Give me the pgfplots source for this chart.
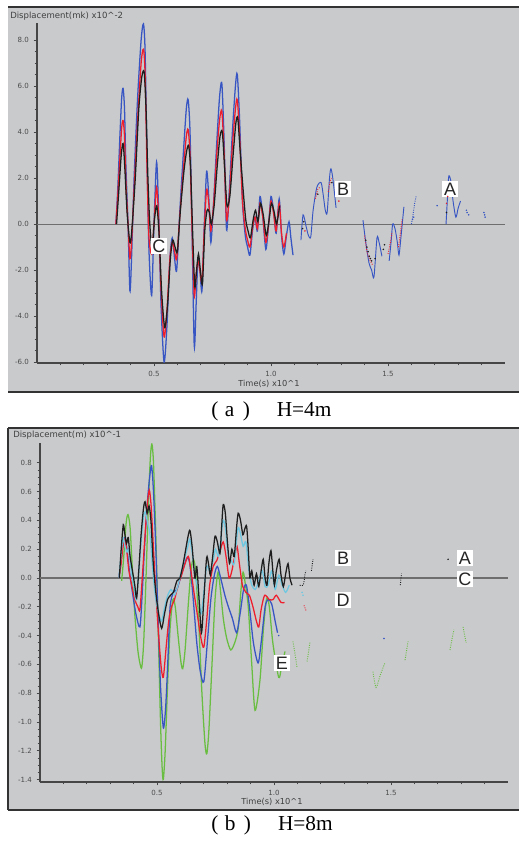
\documentclass[border=0pt]{standalone}
\usepackage{pgfplots}
\pgfplotsset{compat=1.18}
\usepackage{fontspec}
\setmainfont{Liberation Serif}
\newfontfamily\lsans{Liberation Sans}
\newfontfamily\dsans{DejaVu Sans}
\definecolor{bg}{RGB}{201,202,204}
\definecolor{cblue}{RGB}{55,85,195}
\definecolor{cred}{RGB}{238,30,45}
\definecolor{cblack}{RGB}{30,30,30}
\definecolor{ccyan}{RGB}{110,200,225}
\definecolor{cgreen}{RGB}{105,190,65}
\definecolor{axgray}{RGB}{70,70,70}
\definecolor{zgray}{RGB}{110,110,110}

\tikzset{lbl/.style={fill=white, inner xsep=1.2pt, inner ysep=1.4pt, font=\lsans\fontsize{13.5}{14}\selectfont, text height=9.6pt, text depth=0pt, text=black!85}}
\pgfplotsset{
  dispaxis/.style={
    scale only axis, anchor=south west,
    xmin=0, xmax=2,
    axis x line=bottom, axis y line=left,
    axis line style={-, draw=axgray, line width=0.9pt},
    tick style={draw=axgray, line width=0.6pt},
    tick align=outside,
    major tick length=2.5pt, minor tick length=1.8pt,
    xtick={0.5,1,1.5},
    minor xtick={0.1,0.2,0.3,0.4,0.6,0.7,0.8,0.9,1.1,1.2,1.3,1.4,1.6,1.7,1.8,1.9},
    minor y tick num=3,
    /pgf/number format/assume math mode=true,
    /pgf/number format/.cd, fixed, fixed zerofill, precision=1, /pgfplots/.cd,
    tick label style={font=\dsans\fontsize{5.3}{6}\selectfont, text=black!70},
    clip=true,
  },
  ln/.style={line width=0.95pt, smooth, tension=0.45},
  seg/.style={line width=0.7pt, smooth, tension=0.45},
  dots/.style={only marks, mark=*, mark size=0.35pt},
}

\begin{document}
\begin{tikzpicture}
\useasboundingbox (0pt,0pt) rectangle (389.25pt,-630.75pt);
\fill[white] (0pt,0pt) rectangle (389.25pt,-630.75pt);
% panel frames
\fill[bg] (6pt,-5.25pt) rectangle (389.25pt,-294pt);
\draw[black!80, line width=1.4pt] (6pt,-5.25pt) -- (389.25pt,-5.25pt);
\draw[black!80, line width=1.1pt] (6pt,-294pt) -- (389.25pt,-294pt);
\fill[bg] (6pt,-321pt) rectangle (389.25pt,-607.5pt);
\draw[black!80, line width=1.4pt] (6pt,-321pt) -- (389.25pt,-321pt);
\draw[black!80, line width=1.2pt] (6pt,-321pt) -- (6pt,-607.5pt);
\draw[black!80, line width=1.1pt] (6pt,-607.5pt) -- (389.25pt,-607.5pt);

% ================= panel (a) =================
\begin{axis}[dispaxis, at={(27.75pt,-272.25pt)}, width=351pt, height=255pt,
  ymin=-6.04, ymax=8.74, ytick={-6,-4,-2,0,2,4,6,8}]
\addplot[zgray, line width=0.8pt] coordinates {(0,0) (2,0)};
% blue main
\addplot[cblue, ln] table[row sep=\\]{
0.337 0\\ 0.345 1.5\\ 0.355 4.0\\ 0.362 5.5\\ 0.368 5.9\\ 0.374 5.0\\ 0.380 2.5\\ 0.389 0\\ 0.397 -2.9\\ 0.404 -1.5\\
0.415 2.0\\ 0.430 5.5\\ 0.445 8.0\\ 0.455 8.7\\ 0.462 7.5\\ 0.470 3.0\\ 0.478 -1.0\\ 0.490 -3.1\\ 0.500 0.0\\ 0.511 2.7\\
0.520 0.5\\ 0.530 -3.5\\ 0.543 -6.0\\ 0.555 -4.5\\ 0.568 -1.5\\ 0.578 -0.6\\ 0.588 -1.5\\ 0.597 -2.0\\ 0.610 0.5\\ 0.625 3.0\\
0.638 5.0\\ 0.646 5.4\\ 0.654 4.0\\ 0.662 0.0\\ 0.672 -5.3\\ 0.680 -3.5\\ 0.688 -1.5\\ 0.696 -2.0\\ 0.705 -2.9\\ 0.715 0.0\\
0.725 2.3\\ 0.735 1.0\\ 0.743 -0.8\\ 0.755 1.0\\ 0.768 3.5\\ 0.780 5.5\\ 0.790 6.1\\ 0.800 3.5\\ 0.810 -0.25\\ 0.822 1.5\\
0.835 4.0\\ 0.848 6.0\\ 0.856 6.5\\ 0.866 4.5\\ 0.878 1.0\\ 0.890 -0.5\\ 0.900 -1.0\\ 0.910 -1.35\\ 0.922 -0.2\\ 0.932 0.3\\
0.942 -0.3\\ 0.953 1.2\\ 0.965 0.3\\ 0.978 -1.1\\ 0.990 0.0\\ 1.000 1.2\\ 1.012 0.5\\ 1.022 -0.4\\ 1.035 1.1\\ 1.045 -0.5\\
1.055 -1.3\\ 1.066 -0.5\\ 1.077 0.1\\ 1.085 -0.6\\ 1.094 -1.35\\
};
\addplot[cblue, seg] table[row sep=\\]{
1.128 -0.7\\ 1.137 0.4\\ 1.150 -0.1\\ 1.160 -0.5\\ 1.170 -0.55\\ 1.180 0.6\\ 1.196 1.6\\ 1.214 1.8\\ 1.224 1.2\\ 1.232 0.6\\
1.240 0.5\\ 1.250 2.0\\ 1.256 2.4\\ 1.264 2.0\\ 1.278 0.7\\
};
\addplot[cblue, seg] table[row sep=\\]{
1.393 0.17\\ 1.405 -0.8\\ 1.419 -1.7\\ 1.430 -2.0\\ 1.440 -2.3\\ 1.453 -0.6\\ 1.462 -0.8\\ 1.474 -1.4\\
};
\addplot[cblue, seg] table[row sep=\\]{
1.505 -1.6\\ 1.513 -0.8\\ 1.520 0.0\\ 1.530 -0.2\\ 1.540 -0.8\\ 1.547 -1.35\\ 1.556 -0.5\\ 1.568 0.75\\
};
\addplot[cblue, seg, densely dotted] table[row sep=\\]{
1.600 0.0\\ 1.607 0.4\\ 1.614 0.9\\ 1.620 1.2\\
};
\addplot[cblue, seg] table[row sep=\\]{
1.748 0.0\\ 1.755 1.3\\ 1.760 2.1\\ 1.770 1.8\\ 1.778 1.0\\ 1.790 0.3\\ 1.800 0.7\\ 1.810 1.0\\
};
\addplot[cblue, dots] table[row sep=\\]{
1.710 0.8\\ 1.835 0.6\\ 1.838 0.5\\ 1.845 0.4\\ 1.910 0.5\\ 1.913 0.4\\ 1.915 0.3\\ 1.605 0.2\\ 1.610 0.3\\
};
% red main
\addplot[cred, ln] table[row sep=\\]{
0.337 0\\ 0.345 1.2\\ 0.355 3.0\\ 0.362 4.2\\ 0.368 4.5\\ 0.374 3.8\\ 0.380 1.8\\ 0.389 0\\ 0.397 -1.5\\ 0.404 -0.8\\
0.415 1.5\\ 0.430 4.5\\ 0.445 7.0\\ 0.455 7.6\\ 0.462 6.5\\ 0.470 2.5\\ 0.478 -0.5\\ 0.490 -1.3\\ 0.500 0.0\\ 0.511 1.6\\
0.520 0.2\\ 0.530 -2.8\\ 0.543 -4.9\\ 0.555 -3.8\\ 0.568 -1.5\\ 0.578 -0.8\\ 0.588 -1.2\\ 0.597 -1.5\\ 0.610 0.3\\ 0.625 2.3\\
0.638 3.8\\ 0.646 4.1\\ 0.654 3.0\\ 0.662 0.0\\ 0.672 -3.1\\ 0.680 -2.2\\ 0.688 -1.6\\ 0.696 -2.0\\ 0.705 -2.5\\ 0.715 -0.2\\
0.725 1.5\\ 0.735 0.8\\ 0.743 -0.3\\ 0.755 0.9\\ 0.768 3.0\\ 0.780 4.5\\ 0.790 4.9\\ 0.800 3.0\\ 0.810 0.2\\ 0.822 1.2\\
0.835 3.4\\ 0.848 5.0\\ 0.856 5.4\\ 0.866 3.8\\ 0.878 1.0\\ 0.890 -0.2\\ 0.900 -0.7\\ 0.910 -1.0\\ 0.922 -0.1\\ 0.932 0.3\\
0.942 -0.2\\ 0.953 0.9\\ 0.965 0.3\\ 0.978 -0.8\\ 0.990 0.0\\ 1.000 1.0\\ 1.012 0.4\\ 1.022 -0.3\\ 1.035 0.9\\ 1.045 -0.4\\
1.055 -1.0\\ 1.066 -0.4\\
};
\addplot[cred, seg, densely dotted] table[row sep=\\]{
1.190 1.1\\ 1.200 1.5\\ 1.210 1.6\\
};
\addplot[cred, seg, densely dotted] table[row sep=\\]{
1.245 1.4\\ 1.252 1.8\\ 1.258 2.0\\
};
\addplot[cred, seg, densely dotted] table[row sep=\\]{
1.400 -0.5\\ 1.410 -1.2\\ 1.420 -1.5\\ 1.435 -1.8\\
};
\addplot[cred, seg, densely dotted] table[row sep=\\]{
1.500 -1.3\\ 1.510 -0.8\\ 1.517 -0.4\\
};
\addplot[cred, seg, densely dotted] table[row sep=\\]{
1.545 -1.0\\ 1.552 -0.5\\ 1.560 0.2\\
};
\addplot[cred, dots] table[row sep=\\]{
1.750 0.9\\ 1.755 1.2\\ 1.145 -0.3\\ 1.290 1.0\\
};
% black main
\addplot[cblack, ln] table[row sep=\\]{
0.340 0\\ 0.350 1.5\\ 0.360 3.0\\ 0.368 3.5\\ 0.375 2.5\\ 0.385 0.5\\ 0.397 -0.8\\ 0.405 -0.3\\ 0.420 2.0\\ 0.435 5.0\\
0.448 6.4\\ 0.458 6.6\\ 0.466 5.0\\ 0.474 2.0\\ 0.482 0.0\\ 0.492 -1.0\\ 0.502 0.2\\ 0.512 0.8\\ 0.522 -0.5\\ 0.533 -3.0\\
0.546 -4.5\\ 0.558 -3.5\\ 0.570 -1.5\\ 0.580 -0.7\\ 0.590 -1.0\\ 0.600 -1.2\\ 0.612 0.5\\ 0.628 2.3\\ 0.640 3.2\\ 0.648 3.4\\
0.656 2.5\\ 0.664 0.0\\ 0.674 -2.7\\ 0.682 -2.0\\ 0.690 -1.3\\ 0.698 -2.0\\ 0.707 -2.6\\ 0.717 -0.3\\ 0.727 0.6\\ 0.737 0.5\\
0.745 0.0\\ 0.757 0.8\\ 0.770 2.5\\ 0.782 3.8\\ 0.792 4.0\\ 0.802 2.4\\ 0.812 0.8\\ 0.824 1.2\\ 0.838 3.0\\ 0.850 4.4\\
0.858 4.6\\ 0.868 3.2\\ 0.880 1.6\\ 0.892 0.2\\ 0.902 -0.3\\ 0.912 -0.6\\ 0.924 0.2\\ 0.934 0.6\\ 0.944 0.1\\ 0.955 0.9\\
0.967 0.4\\ 0.980 -0.5\\ 0.992 0.2\\ 1.002 0.9\\ 1.014 0.5\\ 1.024 0.0\\ 1.037 0.8\\
};
\addplot[cblack, dots] table[row sep=\\]{
1.405 -0.7\\ 1.410 -1.0\\ 1.415 -1.2\\ 1.420 -1.4\\ 1.425 -1.5\\ 1.430 -1.6\\ 1.445 -1.5\\ 1.480 -1.1\\ 1.485 -0.9\\
1.135 -0.2\\ 1.140 0.1\\ 1.260 1.8\\ 1.750 0.5\\ 1.200 1.3\\
};
\node[lbl] at (axis cs:1.308,1.52) {B};
\node[lbl] at (axis cs:1.765,1.52) {A};
\node[lbl] at (axis cs:0.521,-0.96) {C};
\end{axis}
\node[font=\dsans\fontsize{6.4}{7}\selectfont, text=black!75, anchor=west, inner sep=0pt] at (7.5pt,-12pt) {Displacement(mk) x10\textasciicircum-2};
\node[font=\dsans\fontsize{6.2}{7}\selectfont, text=black!75, inner sep=0pt] at (201.75pt,-288pt) {Time(s) x10\textasciicircum1};
\node[font=\fontsize{16}{18}\selectfont, anchor=base west, inner sep=0pt] at (158.25pt,-312.5pt) {(\hspace{4.9pt}a\hspace{6.3pt})\hspace{20.2pt}H=4m};

% ================= panel (b) =================
\begin{axis}[dispaxis, at={(30pt,-586.5pt)}, width=351pt, height=254.25pt,
  ymin=-1.417, ymax=0.9375, ytick={-1.4,-1.2,-1,-0.8,-0.6,-0.4,-0.2,0,0.2,0.4,0.6,0.8}]
\addplot[zgray, line width=0.8pt] coordinates {(0,0) (2,0)};
% green
\addplot[cgreen, ln] table[row sep=\\]{
0.349 -0.02\\ 0.358 0.15\\ 0.368 0.38\\ 0.376 0.44\\ 0.385 0.35\\ 0.395 0.05\\ 0.405 -0.25\\ 0.418 -0.50\\ 0.428 -0.60\\ 0.435 -0.62\\
0.443 -0.45\\ 0.452 -0.05\\ 0.462 0.45\\ 0.471 0.82\\ 0.478 0.93\\ 0.485 0.80\\ 0.495 0.30\\ 0.505 -0.35\\ 0.515 -1.00\\ 0.522 -1.32\\
0.527 -1.40\\ 0.535 -1.20\\ 0.545 -0.75\\ 0.556 -0.35\\ 0.568 -0.15\\ 0.578 -0.20\\ 0.590 -0.40\\ 0.602 -0.58\\ 0.610 -0.63\\ 0.620 -0.50\\
0.633 -0.20\\ 0.645 0.05\\ 0.655 0.13\\ 0.665 0.05\\ 0.678 -0.30\\ 0.692 -0.80\\ 0.705 -1.15\\ 0.713 -1.22\\ 0.722 -1.05\\ 0.735 -0.60\\
0.748 -0.15\\ 0.761 0.04\\ 0.772 -0.10\\ 0.784 -0.29\\ 0.798 -0.42\\ 0.815 -0.50\\ 0.832 -0.45\\ 0.847 -0.35\\ 0.858 -0.10\\ 0.868 0.04\\
0.878 -0.05\\ 0.890 -0.20\\ 0.905 -0.60\\ 0.919 -0.92\\ 0.940 -0.71\\ 0.955 -0.35\\ 0.969 -0.14\\ 0.980 -0.20\\ 0.995 -0.45\\ 1.020 -0.69\\
1.032 -0.62\\ 1.047 -0.51\\
};
\addplot[cgreen, seg, densely dotted] table[row sep=\\]{1.081 -0.44\\ 1.090 -0.53\\ 1.098 -0.62\\};
\addplot[cgreen, seg, densely dotted] table[row sep=\\]{1.141 -0.58\\ 1.148 -0.51\\ 1.154 -0.44\\};
\addplot[cgreen, seg, densely dotted] table[row sep=\\]{1.423 -0.65\\ 1.436 -0.76\\ 1.455 -0.67\\ 1.474 -0.59\\};
\addplot[cgreen, seg, densely dotted] table[row sep=\\]{1.560 -0.57\\ 1.567 -0.50\\ 1.573 -0.44\\};
\addplot[cgreen, seg, densely dotted] table[row sep=\\]{1.752 -0.50\\ 1.760 -0.43\\ 1.769 -0.36\\};
\addplot[cgreen, seg, densely dotted] table[row sep=\\]{1.808 -0.34\\ 1.815 -0.40\\ 1.821 -0.45\\};
% blue
\addplot[cblue, ln] table[row sep=\\]{
0.337 0.00\\ 0.345 0.10\\ 0.355 0.25\\ 0.363 0.28\\ 0.372 0.20\\ 0.382 0.05\\ 0.395 -0.10\\ 0.410 -0.25\\ 0.427 -0.34\\ 0.437 -0.10\\
0.448 0.25\\ 0.460 0.55\\ 0.470 0.72\\ 0.477 0.78\\ 0.485 0.60\\ 0.495 0.20\\ 0.505 -0.30\\ 0.515 -0.75\\ 0.527 -1.04\\ 0.537 -0.90\\
0.547 -0.55\\ 0.556 -0.20\\ 0.570 -0.10\\ 0.585 -0.08\\ 0.600 0.00\\ 0.615 0.08\\ 0.628 0.14\\ 0.640 0.10\\ 0.655 -0.15\\ 0.670 -0.45\\
0.685 -0.65\\ 0.700 -0.72\\ 0.715 -0.45\\ 0.730 -0.15\\ 0.745 0.02\\ 0.758 0.08\\ 0.772 0.00\\ 0.790 -0.12\\ 0.805 -0.20\\ 0.822 -0.28\\
0.840 -0.38\\ 0.855 -0.25\\ 0.870 -0.08\\ 0.882 -0.05\\ 0.895 -0.20\\ 0.912 -0.45\\ 0.932 -0.59\\ 0.945 -0.45\\ 0.962 -0.20\\ 0.975 -0.15\\
0.990 -0.18\\ 1.005 -0.30\\ 1.015 -0.38\\
};
\addplot[cblue, dots] table[row sep=\\]{1.470 -0.42\\ 1.020 -0.40\\};
% red
\addplot[cred, ln] table[row sep=\\]{
0.337 0.00\\ 0.345 0.08\\ 0.355 0.22\\ 0.362 0.27\\ 0.370 0.20\\ 0.380 0.05\\ 0.392 -0.05\\ 0.405 -0.15\\ 0.418 -0.20\\ 0.427 -0.22\\
0.437 0.00\\ 0.447 0.25\\ 0.458 0.50\\ 0.467 0.61\\ 0.475 0.50\\ 0.485 0.20\\ 0.495 -0.10\\ 0.507 -0.40\\ 0.518 -0.62\\ 0.527 -0.69\\
0.538 -0.50\\ 0.550 -0.30\\ 0.562 -0.20\\ 0.575 -0.15\\ 0.590 -0.05\\ 0.605 0.02\\ 0.620 0.10\\ 0.634 0.15\\ 0.645 0.05\\ 0.658 -0.10\\
0.672 -0.25\\ 0.688 -0.42\\ 0.700 -0.48\\ 0.712 -0.30\\ 0.725 -0.05\\ 0.740 0.08\\ 0.755 0.12\\ 0.768 0.18\\ 0.783 0.25\\ 0.795 0.15\\
0.808 0.00\\ 0.820 0.05\\ 0.832 0.15\\ 0.842 0.22\\ 0.852 0.10\\ 0.865 -0.05\\ 0.880 -0.10\\ 0.895 -0.12\\ 0.910 -0.20\\ 0.925 -0.30\\
0.935 -0.34\\ 0.945 -0.22\\ 0.960 -0.12\\ 0.980 -0.15\\ 0.996 -0.15\\ 1.010 -0.12\\ 1.030 -0.17\\ 1.045 -0.17\\
};
\addplot[cred, seg, densely dotted] table[row sep=\\]{1.128 -0.19\\ 1.133 -0.21\\ 1.138 -0.23\\};
% cyan
\addplot[ccyan, ln] table[row sep=\\]{
0.337 0.00\\ 0.346 0.15\\ 0.355 0.28\\ 0.363 0.22\\ 0.372 0.18\\ 0.380 0.20\\ 0.390 0.05\\ 0.400 -0.05\\ 0.410 -0.15\\ 0.420 0.00\\
0.432 0.25\\ 0.442 0.42\\ 0.450 0.46\\ 0.460 0.38\\ 0.470 0.30\\ 0.482 0.05\\ 0.495 -0.15\\ 0.508 -0.25\\ 0.520 -0.30\\ 0.533 -0.20\\
0.546 -0.12\\ 0.560 -0.08\\ 0.575 -0.12\\ 0.590 -0.05\\ 0.605 0.05\\ 0.620 0.15\\ 0.632 0.22\\ 0.640 0.27\\ 0.650 0.18\\ 0.662 0.02\\
0.675 -0.08\\ 0.688 -0.25\\ 0.700 -0.10\\ 0.712 0.08\\ 0.725 0.05\\ 0.740 0.12\\ 0.750 0.20\\ 0.762 0.15\\ 0.772 0.25\\ 0.782 0.40\\
0.792 0.35\\ 0.805 0.15\\ 0.818 0.12\\ 0.830 0.10\\ 0.845 0.34\\ 0.855 0.32\\ 0.868 0.22\\ 0.880 0.25\\ 0.893 0.05\\ 0.905 -0.05\\
0.920 -0.08\\ 0.935 -0.02\\ 0.950 0.05\\ 0.962 -0.06\\ 0.975 -0.05\\ 0.990 0.05\\ 1.005 -0.08\\ 1.020 0.02\\ 1.035 -0.05\\ 1.050 -0.10\\
1.065 -0.05\\
};
\addplot[ccyan, dots] table[row sep=\\]{1.120 -0.10\\ 1.124 -0.12\\};
% black
\addplot[cblack, ln] table[row sep=\\]{
0.339 0.00\\ 0.347 0.20\\ 0.356 0.37\\ 0.363 0.30\\ 0.370 0.24\\ 0.377 0.28\\ 0.385 0.15\\ 0.395 0.05\\ 0.405 -0.05\\ 0.413 -0.14\\
0.422 0.05\\ 0.432 0.30\\ 0.442 0.48\\ 0.449 0.53\\ 0.458 0.45\\ 0.466 0.50\\ 0.474 0.40\\ 0.484 0.10\\ 0.495 -0.10\\ 0.507 -0.25\\
0.520 -0.35\\ 0.532 -0.25\\ 0.545 -0.15\\ 0.558 -0.12\\ 0.570 -0.10\\ 0.585 -0.02\\ 0.598 0.00\\ 0.612 0.10\\ 0.625 0.22\\ 0.634 0.30\\
0.641 0.33\\ 0.650 0.22\\ 0.662 0.00\\ 0.670 0.08\\ 0.678 -0.10\\ 0.690 -0.38\\ 0.700 -0.15\\ 0.712 0.14\\ 0.720 0.10\\ 0.728 0.02\\
0.738 0.15\\ 0.748 0.29\\ 0.758 0.25\\ 0.769 0.17\\ 0.776 0.35\\ 0.783 0.51\\ 0.792 0.45\\ 0.801 0.25\\ 0.810 0.10\\ 0.820 0.20\\
0.830 0.15\\ 0.840 0.35\\ 0.847 0.45\\ 0.857 0.40\\ 0.867 0.30\\ 0.875 0.34\\ 0.883 0.36\\ 0.890 0.20\\ 0.897 0.00\\ 0.905 0.05\\
0.915 -0.05\\ 0.925 0.03\\ 0.935 -0.06\\ 0.945 0.05\\ 0.954 0.13\\ 0.962 0.00\\ 0.970 -0.05\\ 0.978 0.10\\ 0.987 0.19\\ 0.995 0.05\\
1.002 -0.05\\ 1.010 0.05\\ 1.022 0.13\\ 1.030 0.02\\ 1.040 -0.06\\ 1.050 0.03\\ 1.060 0.10\\ 1.068 0.00\\ 1.077 -0.05\\
};
\addplot[cblack, seg, densely dotted] table[row sep=\\]{1.110 -0.05\\ 1.125 -0.05\\ 1.133 0.03\\ 1.137 0.05\\};
\addplot[cblack, seg, densely dotted] table[row sep=\\]{1.160 0.05\\ 1.164 0.10\\ 1.167 0.13\\};
\addplot[cblack, seg, densely dotted] table[row sep=\\]{1.540 -0.05\\ 1.542 -0.01\\ 1.545 0.03\\};
\addplot[cblack, dots] table[row sep=\\]{1.744 0.13\\};
\node[lbl] at (axis cs:1.295,0.139) {B};
\node[lbl] at (axis cs:1.816,0.139) {A};
\node[lbl] at (axis cs:1.816,-0.007) {C};
\node[lbl] at (axis cs:1.295,-0.153) {D};
\node[lbl] at (axis cs:1.034,-0.59) {E};
\end{axis}
\node[font=\dsans\fontsize{6.4}{7}\selectfont, text=black!75, anchor=west, inner sep=0pt] at (9.75pt,-326.25pt) {Displacement(m) x10\textasciicircum-1};
\node[font=\dsans\fontsize{6.2}{7}\selectfont, text=black!75, inner sep=0pt] at (204pt,-601.5pt) {Time(s) x10\textasciicircum1};
\node[font=\fontsize{16}{18}\selectfont, anchor=base west, inner sep=0pt] at (158.25pt,-622.5pt) {(\hspace{4.9pt}b\hspace{6.3pt})\hspace{20.2pt}H=8m};
\end{tikzpicture}
\end{document}
